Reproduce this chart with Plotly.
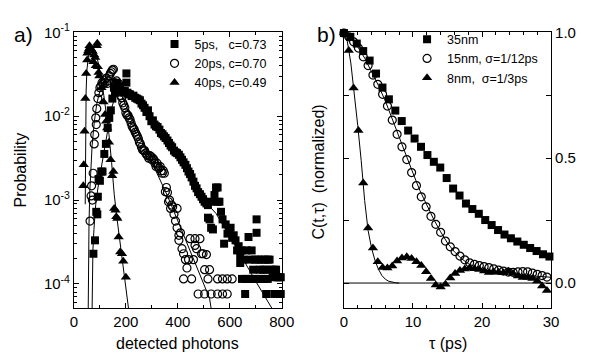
import plotly.graph_objects as go

W, H = 591, 358

# ---------------- panel a) : detected photons vs probability (log10 values read from picture)
sq5_x = [75,81,86,90,92,95,100,105,110,117,
         123,130,136,142,148,154,158,163,167,172,
         178,184,190,196,202,202,206,211,216,222,
         229,236,242,248,254,260,266,272,279,285,
         291,298,304,310,316,322,329,335,341,347,
         353,360,366,372,378,385,391,397,404,410,
         416,422,429,435,441,447,453,460,466,472,
         478,485,491,497,503,510,516,516,522,528,
         528,535,541,547,553,553,560,566,572,578,
         584,591,597,603,609,615,622,628,634,640,
         640,646,652,659,665,672,678,684,690,697,
         703,703,709,715,722,728,734,740,746,753,
         759,765,771,778,784,790,796,796,784,771,
         647,660,672,684,697,709,722,734,746,740]
sq5_logp = [-3.64,-3.48,-3.14,-3.17,-2.96,-2.75,-2.77,-2.66,-2.66,-2.45,
            -2.33,-2.14,-2.02,-1.93,-1.79,-1.66,-1.72,-1.6,-1.62,-1.65,
            -1.68,-1.7,-1.72,-1.7,-1.49,-1.6,-1.72,-1.735,-1.74,-1.76,
            -1.755,-1.78,-1.79,-1.8,-1.81,-1.85,-1.87,-1.9,-1.95,-1.93,
            -2.0,-2.06,-2.05,-2.1,-2.12,-2.13,-2.16,-2.2,-2.215,-2.24,
            -2.26,-2.29,-2.32,-2.35,-2.37,-2.41,-2.43,-2.44,-2.46,-2.49,
            -2.52,-2.55,-2.58,-2.62,-2.66,-2.69,-2.73,-2.78,-2.83,-2.86,
            -2.905,-2.93,-2.96,-2.99,-3.02,-3.04,-3.06,-3.21,-3.23,-3.02,
            -3.33,-3.35,-2.94,-2.85,-2.85,-3.02,-3.02,-3.14,-3.23,-3.52,
            -3.29,-3.40,-3.36,-3.33,-3.45,-3.42,-3.48,-3.60,-3.55,-3.655,
            -3.75,-3.60,-3.71,-4.12,-3.60,-3.44,-3.71,-3.60,-3.83,-3.71,
            -3.23,-3.39,-3.71,-3.83,-3.71,-3.83,-3.71,-3.83,-3.71,-3.71,
            -3.83,-3.92,-3.83,-3.83,-3.92,-3.92,-3.92,-4.12,-4.12,-4.12,
            -3.94,-3.94,-3.94,-3.94,-3.94,-3.94,-3.94,-3.94,-3.94,-4.12]

c20_x = [62,66,68,71,74,78,80,84,86,88,
         92,96,100,104,108,112,116,120,124,128,
         132,136,140,144,148,152,156,160,164,168,
         172,176,180,184,188,192,196,200,204,208,
         212,216,220,224,228,232,236,240,244,248,
         252,256,260,264,268,272,276,280,284,288,
         292,296,300,304,308,312,316,320,324,328,
         332,336,340,344,348,352,356,360,364,368,
         372,376,380,385,391,397,397,404,404,410,
         416,422,422,429,435,441,447,453,460,466,
         466,472,478,485,491,497,503,503,510,516,
         522,528,553,553,572,572,590,590,609]
c20_logp = [-3.25,-2.95,-2.83,-3.0,-2.68,-2.33,-2.22,-2.02,-2.1,-1.91,
            -1.79,-1.72,-1.66,-1.64,-1.6,-1.61,-1.57,-1.6,-1.55,-1.61,
            -1.58,-1.52,-1.49,-1.47,-1.45,-1.44,-1.6,-1.65,-1.58,-1.62,
            -1.61,-1.7,-1.755,-1.78,-1.84,-1.87,-1.9,-1.96,-1.985,-1.99,
            -2.02,-2.04,-2.08,-2.12,-2.14,-2.16,-2.19,-2.215,-2.24,-2.27,
            -2.31,-2.33,-2.37,-2.4,-2.41,-2.41,-2.44,-2.46,-2.47,-2.5,
            -2.47,-2.48,-2.52,-2.5,-2.52,-2.56,-2.6,-2.56,-2.6,-2.62,
            -2.6,-2.65,-2.68,-2.65,-2.68,-2.9,-2.85,-2.91,-3.02,-3.0,
            -3.1,-3.06,-3.08,-3.17,-3.25,-3.1,-3.33,-3.42,-3.48,-3.39,
            -3.58,-3.64,-3.94,-3.71,-3.81,-3.71,-3.46,-3.94,-3.71,-3.46,
            -3.54,-3.58,-4.12,-3.46,-3.64,-3.64,-3.83,-4.12,-3.65,-3.94,
            -3.83,-4.12,-3.94,-4.12,-3.94,-4.12,-3.94,-4.12,-3.94]

t40_x = [36,38,41,44,47,51,52,56,58,60,
         62,66,70,72,75,78,82,84,88,90,
         92,95,98,106,114,120,124,128,135,141,
         147,152,155,160,163,167,172,178,185,190,
         200]
t40_logp = [-2.83,-2.58,-2.18,-1.79,-1.49,-1.33,-1.25,-1.22,-1.2,-1.16,
            -1.18,-1.2,-1.22,-1.23,-1.35,-1.27,-1.3,-1.4,-1.16,-1.13,
            -1.41,-1.48,-1.52,-1.66,-1.83,-1.98,-2.06,-2.14,-2.31,-2.52,
            -2.71,-2.66,-3.1,-3.12,-3.2,-3.22,-3.44,-3.62,-3.64,-3.73,
            -3.92]

# fitted curves
sq5_fit_x = [70,71,73,77,84,95,105,118,130,145,160,180,200,220,250,280,320,360,400,450,500,547,600,650,700,762]
sq5_fit_logp = [-4.29,-3.9,-3.6,-3.35,-3.05,-2.8,-2.62,-2.38,-2.15,-1.9,-1.76,-1.69,-1.67,-1.7,-1.79,-1.9,-2.08,-2.28,-2.49,-2.75,-3.0,-3.16,-3.43,-3.7,-3.97,-4.29]
c20_fit_x = [55,56,58,61,65,70,78,88,100,115,130,145,160,180,200,225,254,300,360,420,470,522,528]
c20_fit_logp = [-4.29,-3.8,-3.3,-2.9,-2.6,-2.35,-2.08,-1.85,-1.7,-1.6,-1.56,-1.56,-1.6,-1.72,-1.88,-2.05,-2.25,-2.55,-2.95,-3.4,-3.78,-4.17,-4.29]
t40_fit_x = [43.5,44,44.5,45.5,47,50,55,62,70,78,86,95,105,115,125,135,145,155,167,180,195,210]
t40_fit_logp = [-3.05,-2.7,-2.35,-2.0,-1.7,-1.45,-1.3,-1.21,-1.19,-1.21,-1.27,-1.38,-1.55,-1.75,-1.98,-2.22,-2.55,-2.93,-3.25,-3.57,-3.93,-4.29]

# ---------------- panel b) : correlation C(t,tau)
nm35_tau = [0,0.93,1.86,2.79,3.72,4.65,5.58,6.51,7.44,8.37,
            9.3,10.23,11.16,12.09,13.02,13.95,14.88,15.81,16.74,17.67,
            18.6,19.53,20.46,21.39,22.32,23.25,24.18,25.11,26.04,26.97,
            27.9,28.83,29.76]
nm35_C = [1.0,0.985,0.958,0.928,0.89,0.838,0.782,0.735,0.69,0.648,
          0.61,0.578,0.545,0.512,0.485,0.462,0.42,0.378,0.35,0.318,
          0.296,0.277,0.252,0.232,0.212,0.194,0.179,0.166,0.153,0.14,
          0.128,0.115,0.106]

grid_tau = [0,0.7,1.4,2.1,2.8,3.5,4.2,4.9,5.6,6.3,
            7.0,7.7,8.4,9.1,9.8,10.5,11.2,11.9,12.6,13.3,
            14.0,14.7,15.4,16.1,16.8,17.5,18.2,18.9,19.6,20.3,
            21.0,21.7,22.4,23.1,23.8,24.5,25.2,25.9,26.6,27.3,
            28.0,28.7,29.4]
nm15_C = [1.0,0.985,0.965,0.94,0.905,0.87,0.832,0.795,0.755,0.708,
          0.652,0.595,0.545,0.494,0.442,0.39,0.345,0.305,0.267,0.235,
          0.203,0.168,0.145,0.126,0.108,0.093,0.081,0.075,0.07,0.066,
          0.062,0.057,0.052,0.048,0.044,0.043,0.045,0.046,0.045,0.04,
          0.035,0.03,0.024]
nm8_C = [1.0,0.93,0.78,0.61,0.40,0.22,0.14,0.085,0.062,0.060,
         0.068,0.088,0.10,0.105,0.098,0.085,0.07,0.045,0.018,-0.008,
         -0.016,-0.005,0.02,0.038,0.05,0.056,0.06,0.057,0.054,0.048,
         0.042,0.044,0.043,0.041,0.047,0.038,0.028,0.022,0.022,0.018,
         0.008,-0.012,-0.03]

nm15_fit_tau = [0,1,2,3,4,5,6,7,8,9,10,11,12,13,14,15,16,17,18,19,20,22,24,26,28,30]
nm15_fit_C = [1.0,0.978,0.945,0.9,0.845,0.79,0.728,0.655,0.58,0.51,0.44,0.37,0.31,0.255,0.205,0.16,0.125,0.098,0.078,0.064,0.054,0.042,0.035,0.03,0.026,0.023]
nm8_fit_tau = [0,0.5,1,1.5,2,2.5,3,3.5,4,4.5,5,5.5,6,6.5,7,7.5,8]
nm8_fit_C = [1.0,0.965,0.88,0.76,0.63,0.49,0.33,0.21,0.14,0.09,0.055,0.03,0.015,0.007,0.003,0.001,0.0]
zero_tau = [0, 30]
zero_C = [0, 0]

legend_a = ["5ps,\u00a0\u00a0\u00a0c=0.73", "20ps, c=0.70", "40ps, c=0.49"]
legend_b = ["35nm", "15nm, \u03c3=1/12ps", "8nm,\u00a0\u00a0\u03c3=1/3ps"]


def pw(v):
    return [10 ** u for u in v]


fig = go.Figure()
LINE = dict(color="black", width=1)
SQ = dict(symbol="square", size=8, color="black")
CI = dict(symbol="circle-open", size=8, color="black", line=dict(width=1.2, color="black"))
TR = dict(symbol="triangle-up", size=9, color="black")

# panel a fits
for fx, fy in [(sq5_fit_x, sq5_fit_logp), (c20_fit_x, c20_fit_logp), (t40_fit_x, t40_fit_logp)]:
    fig.add_trace(go.Scatter(x=fx, y=pw(fy), mode="lines", line=LINE, showlegend=False,
                             xaxis="x", yaxis="y", hoverinfo="skip"))
# panel a data
fig.add_trace(go.Scatter(x=sq5_x, y=pw(sq5_logp), mode="markers", name=legend_a[0], marker=SQ,
                         xaxis="x", yaxis="y", legend="legend", cliponaxis=False))
fig.add_trace(go.Scatter(x=c20_x, y=pw(c20_logp), mode="markers", name=legend_a[1], marker=CI,
                         xaxis="x", yaxis="y", legend="legend", cliponaxis=False))
fig.add_trace(go.Scatter(x=t40_x, y=pw(t40_logp), mode="markers", name=legend_a[2], marker=TR,
                         xaxis="x", yaxis="y", legend="legend", cliponaxis=False))

# panel b lines
for fx, fy in [(zero_tau, zero_C), (nm15_fit_tau, nm15_fit_C), (nm8_fit_tau, nm8_fit_C)]:
    fig.add_trace(go.Scatter(x=fx, y=fy, mode="lines", line=LINE, showlegend=False,
                             xaxis="x2", yaxis="y2", hoverinfo="skip"))
fig.add_trace(go.Scatter(x=nm35_tau, y=nm35_C, mode="markers", name=legend_b[0], marker=SQ,
                         xaxis="x2", yaxis="y2", legend="legend2", cliponaxis=False))
fig.add_trace(go.Scatter(x=grid_tau, y=nm15_C, mode="markers", name=legend_b[1], marker=CI,
                         xaxis="x2", yaxis="y2", legend="legend2", cliponaxis=False))
fig.add_trace(go.Scatter(x=grid_tau, y=nm8_C, mode="markers", name=legend_b[2], marker=TR,
                         xaxis="x2", yaxis="y2", legend="legend2", cliponaxis=False))

FONT = "Liberation Sans, Arial, sans-serif"
ax_common = dict(showline=True, linecolor="black", linewidth=1, mirror="ticks",
                 ticks="inside", ticklen=5, tickcolor="black", showgrid=False, zeroline=False,
                 tickfont=dict(size=15, family=FONT, color="black"))

ya_top, ya_bot = 1 - 22 / H, 1 - 306.7 / H

minor_log = [m * 10 ** e for e in (-5, -4, -3, -2) for m in range(2, 10)]

fig.update_layout(
    width=W, height=H, margin=dict(l=0, r=0, t=0, b=0),
    paper_bgcolor="white", plot_bgcolor="white",
    font=dict(family=FONT, size=15, color="black"),
    xaxis=dict(domain=[72 / W, 286 / W], range=[0, 800], tickvals=[0, 200, 400, 600, 800],
               minor=dict(dtick=100, ticks="inside", ticklen=3, tickcolor="black"),
               anchor="y", **ax_common),
    yaxis=dict(domain=[ya_bot, ya_top], type="log", range=[-4.29, -1.0],
               tickvals=[1e-4, 1e-3, 1e-2, 1e-1],
               ticktext=["10<sup>-4</sup>", "10<sup>-3</sup>", "10<sup>-2</sup>", "10<sup>-1</sup>"],
               minor=dict(tickvals=minor_log, ticks="inside", ticklen=3, tickcolor="black"),
               anchor="x", **ax_common),
    xaxis2=dict(domain=[350 / W, 563.3 / W], range=[0, 30], tickvals=[0, 10, 20, 30],
                minor=dict(dtick=2, ticks="inside", ticklen=3, tickcolor="black"),
                anchor="y2", **ax_common),
    yaxis2=dict(domain=[ya_bot, ya_top], range=[-0.101, 1.003], side="right",
                tickvals=[0, 0.5, 1.0], ticktext=["0.0", "0.5", "1.0"],
                minor=dict(tickvals=[0.25, 0.75], ticks="inside", ticklen=5, tickcolor="black"),
                anchor="x2", **ax_common),
    legend=dict(x=155 / W, y=1 - 19 / H, xanchor="left", yanchor="top", bgcolor="rgba(0,0,0,0)",
                font=dict(size=12.5, family=FONT), tracegroupgap=0, borderwidth=0),
    legend2=dict(x=415 / W, y=1 - 14 / H, xanchor="left", yanchor="top", bgcolor="rgba(0,0,0,0)",
                 font=dict(size=12.5, family=FONT), tracegroupgap=0, borderwidth=0),
    showlegend=True,
)

ann = [
    dict(text="a)", x=8 / W, y=1 - 24 / H, xanchor="left", yanchor="middle", font=dict(size=21)),
    dict(text="b)", x=320 / W, y=1 - 24 / H, xanchor="left", yanchor="middle", font=dict(size=21)),
    dict(text="Probability", x=17 / W, y=1 - 164 / H, textangle=-90, xanchor="center", yanchor="middle",
         font=dict(size=16)),
    dict(text="detected photons", x=179 / W, y=1 - 343 / H, xanchor="center", yanchor="middle",
         font=dict(size=16)),
    dict(text="\u03c4 (ps)", x=457 / W, y=1 - 343 / H, xanchor="center", yanchor="middle",
         font=dict(size=16)),
    dict(text="C(t,\u03c4)\u00a0\u00a0(normalized)", x=324 / W, y=1 - 166 / H, textangle=-90,
         xanchor="center", yanchor="middle", font=dict(size=16)),
]
for a in ann:
    a.update(xref="paper", yref="paper", showarrow=False)
fig.update_layout(annotations=ann)

fig.write_html("out.html")
